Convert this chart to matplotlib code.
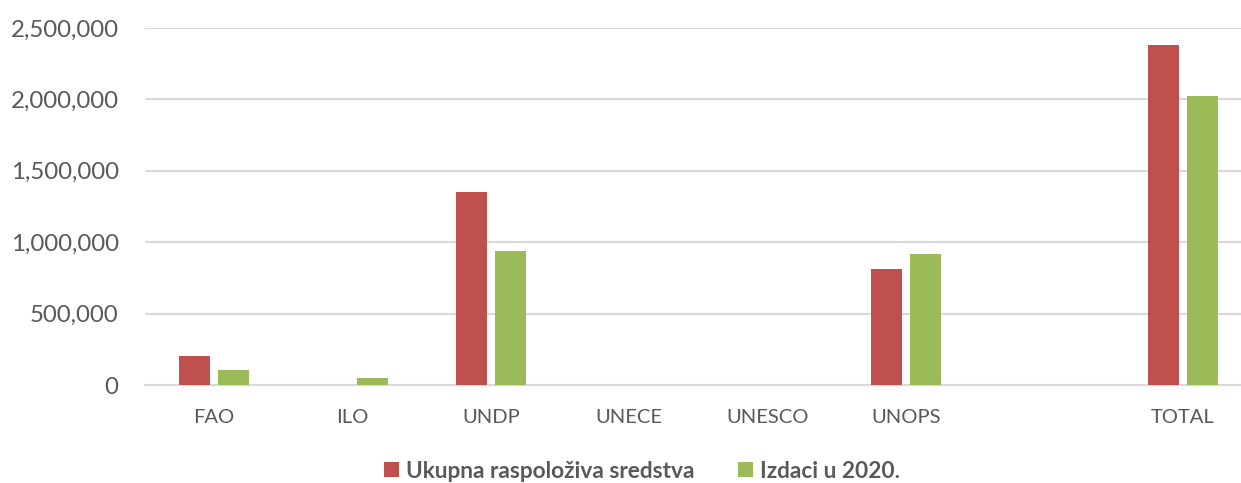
import matplotlib
matplotlib.use('Agg')
import matplotlib.pyplot as plt
from matplotlib.ticker import FuncFormatter
import numpy as np

plt.rcParams['font.family'] = ['Lato', 'DejaVu Sans']

categories = ['FAO', 'ILO', 'UNDP', 'UNECE', 'UNESCO', 'UNOPS', '', 'TOTAL']
ukupno = [205000, 0, 1350000, 0, 0, 812000, 0, 2380000]
izdaci = [102000, 49000, 936000, 0, 0, 919000, 0, 2024000]
series_names = ['Ukupna raspoloživa sredstva', 'Izdaci u 2020.']

red = '#C0504D'
green = '#9BBB59'
grey_txt = '#595959'
grid_c = '#D9D9D9'

fig = plt.figure(figsize=(12.41, 4.83), dpi=100)
ax = fig.add_axes([145/1241, 98/483, 1107/1241, 357/483])

x = np.arange(len(categories))
w = 0.224
off = 0.141
ax.bar(x - off, ukupno, w, color=red, label=series_names[0], zorder=3)
ax.bar(x + off, izdaci, w, color=green, label=series_names[1], zorder=3)

ax.set_xlim(-0.5, len(categories) - 0.5)
ax.set_ylim(0, 2500000)
ax.set_yticks(np.arange(0, 2500001, 500000))
ax.yaxis.set_major_formatter(FuncFormatter(lambda v, p: f'{int(v):,}'))
ax.set_xticks(x)
ax.set_xticklabels(categories)
ax.grid(axis='y', color=grid_c, linewidth=1.5, zorder=0)
for s in ['top', 'right', 'left']:
    ax.spines[s].set_visible(False)
ax.spines['bottom'].set_color(grid_c)
ax.spines['bottom'].set_linewidth(1.5)
ax.tick_params(axis='both', length=0, colors=grey_txt)
ax.tick_params(axis='y', labelsize=17.3, pad=19)
ax.tick_params(axis='x', labelsize=14.5, pad=17)

leg = fig.legend(loc='center', bbox_to_anchor=(642/1241, 1 - 471/483), ncol=2,
                 frameon=False, handlelength=0.66, handleheight=0.62,
                 handletextpad=0.31, columnspacing=1.95,
                 prop={'weight': 'bold', 'size': 16.3})
for t in leg.get_texts():
    t.set_color(grey_txt)

fig.savefig('out.png', dpi=100)
